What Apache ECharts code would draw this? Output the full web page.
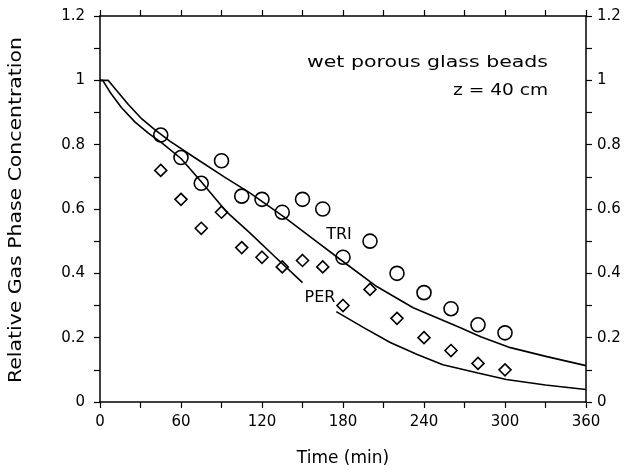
<!DOCTYPE html>
<html><head><meta charset="utf-8">
<script src="https://cdn.jsdelivr.net/npm/echarts@6/dist/echarts.min.js"></script>
<style>html,body{margin:0;padding:0;background:#fff}#c{width:636px;height:475px}</style>
</head><body><div id="c"></div>
<script>
// Measured data (time in min, relative concentration)
const timesObs = [45,60,75,90,105,120,135,150,165,180,200,220,240,260,280,300];
const triObs = [0.83,0.76,0.68,0.75,0.64,0.63,0.59,0.63,0.60,0.45,0.50,0.40,0.34,0.29,0.24,0.215];
const perObs = [0.72,0.63,0.54,0.59,0.48,0.45,0.42,0.44,0.42,0.30,0.35,0.26,0.20,0.16,0.12,0.10];

// Model curves
const triCurveT = [0,6,12,21,31,41,52,70,92,111,136,160,178,205,232,267,282,304,331,360];
const triCurveY = [1,1,0.97,0.925,0.88,0.845,0.81,0.76,0.70,0.65,0.576,0.50,0.443,0.359,0.293,0.231,0.203,0.169,0.141,0.113];
const perCurve1T = [0,2,8,16,26,36,46,60,75,94,111,130,150];
const perCurve1Y = [1,1,0.96,0.915,0.87,0.835,0.805,0.757,0.685,0.59,0.526,0.45,0.371];
const perCurve2T = [175,195,215,235,254,280,301,330,360];
const perCurve2Y = [0.281,0.232,0.185,0.148,0.116,0.09,0.070,0.053,0.039];

// Curve labels
const curveLabels = ['TRI','PER'];
const curveLabelPos = [[177,0.52],[163,0.325]];

const xTicks = [0,60,120,180,240,300,360];
const yTicks = [0,0.2,0.4,0.6,0.8,1,1.2];

const zip = (a,b) => a.map((v,i)=>[v,b[i]]);
const FONT = 'DejaVu Sans';
const axisCommon = {
  min: 0,
  axisLine: {show:true, onZero:false, lineStyle:{color:'#000', width:1.5}},
  axisTick: {show:true, inside:false, length:6, lineStyle:{color:'#000', width:1.2}},
  minorTick: {show:true, splitNumber:2, length:6, lineStyle:{color:'#000', width:1.2}},
  splitLine: {show:false},
  axisLabel: {color:'#000', fontFamily:FONT, fontSize:15}
};
const yFmt = v => String(Math.round(v*10)/10);
const chart = echarts.init(document.getElementById('c'));
chart.setOption({
  animation:false,
  backgroundColor:'#fff',
  grid:{left:100, right:50, top:16, bottom:73},
  xAxis:[
    Object.assign({}, axisCommon, {type:'value', position:'bottom', max:360, interval:60,
      name:'Time (min)', nameLocation:'middle', nameGap:48,
      nameTextStyle:{color:'#000', fontFamily:FONT, fontSize:17},
      axisLabel:Object.assign({}, axisCommon.axisLabel, {margin:13, formatter:v=>xTicks.includes(v)?String(v):''})}),
    Object.assign({}, axisCommon, {type:'value', position:'top', max:360, interval:60,
      axisLabel:{show:false}})
  ],
  yAxis:[
    Object.assign({}, axisCommon, {type:'value', position:'left', max:1.2, interval:0.2,
      axisLabel:Object.assign({}, axisCommon.axisLabel, {margin:15, formatter:yFmt})}),
    Object.assign({}, axisCommon, {type:'value', position:'right', max:1.2, interval:0.2,
      axisLabel:Object.assign({}, axisCommon.axisLabel, {margin:11, formatter:yFmt})})
  ],
  series:[
    {type:'line', data:zip(triCurveT,triCurveY), symbol:'none',
      lineStyle:{color:'#000', width:1.6}},
    {type:'line', data:zip(perCurve1T,perCurve1Y), symbol:'none',
      lineStyle:{color:'#000', width:1.6}},
    {type:'line', data:zip(perCurve2T,perCurve2Y), symbol:'none',
      lineStyle:{color:'#000', width:1.6}},
    {type:'scatter', data:zip(timesObs,triObs), symbol:'circle', symbolSize:14,
      itemStyle:{color:'rgba(255,255,255,0)', borderColor:'#000', borderWidth:1.6, opacity:1}},
    {type:'scatter', data:zip(timesObs,perObs), symbol:'diamond', symbolSize:12,
      itemStyle:{color:'rgba(255,255,255,0)', borderColor:'#000', borderWidth:1.6, opacity:1}},
    {type:'scatter', symbolSize:0, silent:true,
      itemStyle:{opacity:1},
      data:curveLabels.map((n,i)=>({name:n, value:curveLabelPos[i]})),
      label:{show:true, position:'inside', formatter:'{b}', color:'#000', fontFamily:FONT, fontSize:16}}
  ],
  graphic:[
    {type:'text', x:548, y:63, scaleX:1.28,
      style:{text:'wet porous glass beads', fill:'#000', font:'16px "DejaVu Sans"', textAlign:'right', textVerticalAlign:'middle'}},
    {type:'text', x:548, y:91, scaleX:1.16,
      style:{text:'z = 40 cm', fill:'#000', font:'16px "DejaVu Sans"', textAlign:'right', textVerticalAlign:'middle'}},
    {type:'text', x:17, y:210, rotation:Math.PI/2, scaleX:1.2,
      style:{text:'Relative Gas Phase Concentration', fill:'#000', font:'17px "DejaVu Sans"', textAlign:'center', textVerticalAlign:'middle'}}
  ]
});
</script></body></html>
